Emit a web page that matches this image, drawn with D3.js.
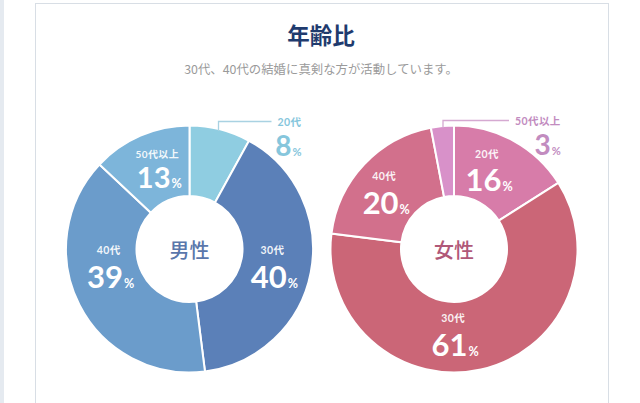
<!DOCTYPE html>
<html><head><meta charset="utf-8">
<script src="https://cdn.jsdelivr.net/npm/d3@7/dist/d3.min.js"></script>
<style>
html,body{margin:0;padding:0;background:#fff;}
svg{display:block;}
</style></head>
<body>
<svg id="chart" width="640" height="403"></svg>
<script>
// ---- data ----
const title = "年齢比";
const subtitle = "30代、40代の結婚に真剣な方が活動しています。";
const categories = ["20代", "30代", "40代", "50代以上"];
const maleLabel = "男性";
const femaleLabel = "女性";
const maleValues = [8, 40, 39, 13];
const femaleValues = [16, 61, 20, 3];

// ---- styles / layout ----
const maleColors = ["#8fcde1", "#5b80b8", "#6b9ccb", "#7db5da"];
const femaleColors = ["#d77ca9", "#cb6677", "#d2708c", "#d891c9"];
const FONT = "Lato, 'Noto Sans CJK JP', sans-serif";
const JP = "'Noto Sans CJK JP', sans-serif";

const svg = d3.select("#chart");

// page background strip + card
svg.append("rect").attr("x", 0).attr("y", 0).attr("width", 4).attr("height", 403).attr("fill", "#e5eaf0");
svg.append("rect").attr("x", 35.5).attr("y", 3.5).attr("width", 573).attr("height", 420)
  .attr("fill", "#fff").attr("stroke", "#d8dee5").attr("stroke-width", 1);

svg.append("text").attr("x", 321).attr("y", 44).attr("text-anchor", "middle")
  .attr("font-family", JP).attr("font-weight", 700).attr("font-size", 22.5)
  .attr("fill", "#1f3b6e").text(title);
svg.append("text").attr("x", 321).attr("y", 74).attr("text-anchor", "middle")
  .attr("font-family", JP).attr("font-size", 12.4)
  .attr("fill", "#9a9a9a").text(subtitle);

const R = 123.5, r0 = 53;
const pie = d3.pie().sort(null).value(d => d);
const arc = d3.arc().innerRadius(r0).outerRadius(R);

function donut(cfg) {
  const g = svg.append("g").attr("transform", `translate(${cfg.cx},${cfg.cy})`);
  const arcs = pie(cfg.values);
  g.selectAll("path.slice").data(arcs).enter().append("path")
    .attr("class", "slice")
    .attr("d", arc)
    .attr("fill", (d, i) => cfg.colors[i])
    .attr("stroke", "#fff").attr("stroke-width", 2);
  g.append("circle").attr("r", r0).attr("fill", "#fff");
  g.append("text").attr("y", 9).attr("text-anchor", "middle")
    .attr("font-family", JP).attr("font-weight", 500).attr("font-size", 20)
    .attr("fill", cfg.centerColor).text(cfg.center);

  arcs.forEach((d, i) => {
    const lp = cfg.labelPos[i];
    if (lp.outside) {
      const lx = lp.lineX;
      const topY = -Math.sqrt(R * R - lx * lx);
      const lineY = -R - 4 - (lp.lift || 0);
      const lineEnd = lp.lineEnd;
      g.append("path")
        .attr("d", `M${lx},${topY + 2}V${lineY}H${lineEnd}`)
        .attr("fill", "none").attr("stroke", lp.lineColor).attr("stroke-width", 1.3);
      const small = g.append("text").attr("x", lineEnd + 6).attr("y", lineY + 4)
        .attr("font-family", FONT).attr("font-weight", 700).attr("font-size", 10.5)
        .attr("letter-spacing", 0.4)
        .attr("fill", lp.textColor).text(categories[i]);
      const bb = small.node().getBBox();
      const big = g.append("text").attr("x", bb.x + bb.width).attr("y", lineY + 34)
        .attr("text-anchor", "end")
        .attr("font-family", FONT).attr("font-weight", 700).attr("font-size", 28).attr("fill", lp.textColor);
      big.append("tspan").text(cfg.values[i]);
      big.append("tspan").attr("font-size", 11).attr("dx", 1).text("%");
    } else {
      const a = lp.angle * Math.PI / 180;
      const x = lp.r * Math.sin(a), y = -lp.r * Math.cos(a);
      g.append("text").attr("x", x).attr("y", y).attr("text-anchor", "middle")
        .attr("font-family", FONT).attr("font-weight", 700).attr("font-size", lp.small || 10.5)
        .attr("letter-spacing", 0.4)
        .attr("fill", "#fff").attr("fill-opacity", 0.92).text(categories[i]);
      const big = g.append("text").attr("x", x + 2).attr("y", y + lp.gap).attr("text-anchor", "middle")
        .attr("font-family", FONT).attr("font-weight", 700).attr("font-size", lp.big || 31).attr("fill", "#fff");
      big.append("tspan").text(cfg.values[i]);
      big.append("tspan").attr("font-size", 12.5).attr("dx", 1).text("%");
    }
  });
}

donut({
  cx: 189.5, cy: 249, values: maleValues, colors: maleColors,
  center: maleLabel, centerColor: "#5a77ab",
  labelPos: [
    { outside: true, lineX: 29, lineEnd: 82, lineColor: "#a9d2e2", textColor: "#86c6dc" },
    { angle: 93.4, r: 83, gap: 34 },
    { angle: 266.5, r: 81, gap: 34 },
    { angle: 340.6, r: 97, gap: 30, small: 10, big: 29 }
  ]
});

donut({
  cx: 454, cy: 249, values: femaleValues, colors: femaleColors,
  center: femaleLabel, centerColor: "#b05878",
  labelPos: [
    { angle: 19.9, r: 97, gap: 33 },
    { angle: 180.7, r: 73, gap: 34 },
    { angle: 314.6, r: 98, gap: 34 },
    { outside: true, lineX: -11, lineEnd: 55, lift: 1, lineColor: "#d5a9d1", textColor: "#c28cbf" }
  ]
});
</script>
</body></html>
